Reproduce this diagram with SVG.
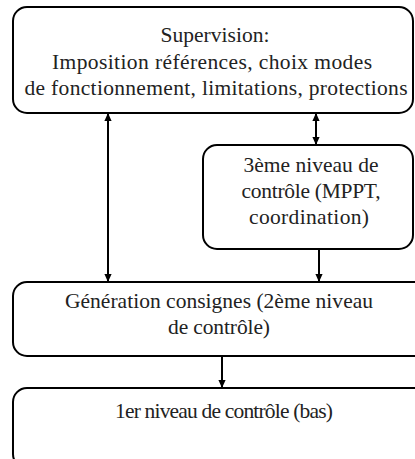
<svg xmlns="http://www.w3.org/2000/svg" width="415" height="459" viewBox="0 0 415 459">
<style>
.box{fill:#fff;stroke:#000;stroke-width:2}
.t{font-family:"Liberation Serif",serif;font-size:21.5px;fill:#222;text-anchor:middle}
.c{stroke:#000;stroke-width:2;fill:none}
</style>
<defs>
<marker id="ah" viewBox="0 0 10 10" refX="10" refY="5" markerWidth="4" markerHeight="4.5" orient="auto-start-reverse" markerUnits="strokeWidth">
<path d="M0,0.5 L10,5 L0,9.5 z" fill="#000"/>
</marker>
</defs>
<rect width="415" height="459" fill="#fff"/>
<g id="connectors">
<line class="c" x1="108" y1="113" x2="108" y2="282" marker-start="url(#ah)" marker-end="url(#ah)"/>
<line class="c" x1="316" y1="113" x2="316" y2="145" marker-start="url(#ah)" marker-end="url(#ah)"/>
<line class="c" x1="319" y1="249" x2="319" y2="282" marker-end="url(#ah)"/>
<line class="c" x1="222" y1="356" x2="222" y2="388" marker-end="url(#ah)"/>
</g>
<g id="supervision">
<rect class="box" x="13" y="7" width="400" height="106" rx="14"/>
<text class="t" x="215" y="42" textLength="109" lengthAdjust="spacing">Supervision:</text>
<text class="t" x="212" y="69" textLength="320" lengthAdjust="spacing">Imposition références, choix modes</text>
<text class="t" x="216" y="95" textLength="383" lengthAdjust="spacing">de fonctionnement, limitations, protections</text>
</g>
<g id="niveau3">
<rect class="box" x="203" y="145" width="210" height="104" rx="14"/>
<text class="t" x="311" y="172" textLength="135" lengthAdjust="spacing">3ème niveau de</text>
<text class="t" x="311" y="198" textLength="139" lengthAdjust="spacing">contrôle (MPPT,</text>
<text class="t" x="309" y="224" textLength="120" lengthAdjust="spacing">coordination)</text>
</g>
<g id="generation">
<rect class="box" x="13" y="282" width="418" height="74" rx="14"/>
<text class="t" x="219" y="308" textLength="308" lengthAdjust="spacing">Génération consignes (2ème niveau</text>
<text class="t" x="219" y="334" textLength="102" lengthAdjust="spacing">de contrôle)</text>
</g>
<g id="niveau1">
<rect class="box" x="13" y="388" width="418" height="80" rx="14"/>
<text class="t" x="224" y="418" textLength="218" lengthAdjust="spacing">1er niveau de contrôle (bas)</text>
</g>
</svg>
